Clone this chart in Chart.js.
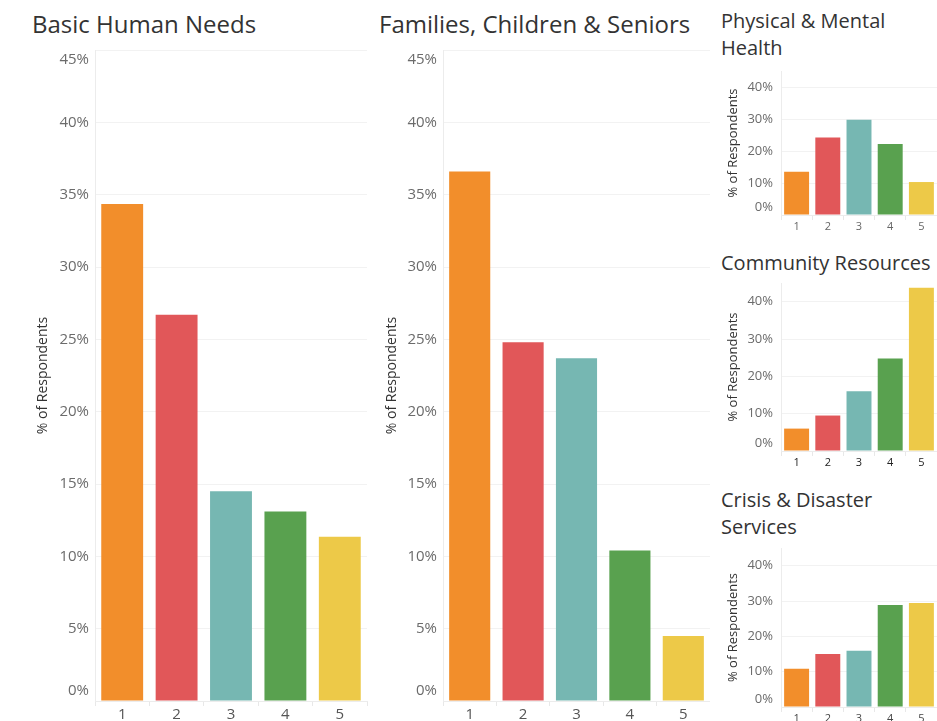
<!DOCTYPE html>
<html>
<head>
<meta charset="utf-8">
<script src="https://cdn.jsdelivr.net/npm/chart.js@4/dist/chart.umd.min.js"></script>
<style>
  html, body { margin: 0; padding: 0; background: #fff; }
  body { width: 937px; height: 721px; overflow: hidden; position: relative; font-family: "Open Sans", "Noto Sans", sans-serif; }
  .title { position: absolute; color: #333; white-space: nowrap; }
  .big { font-size: 24px; line-height: 24px; }
  .small { font-size: 20px; line-height: 27px; }
  canvas { position: absolute; }
</style>
</head>
<body>
<div class="title big" style="left:32px;top:12px">Basic Human Needs</div>
<div class="title big" style="left:379px;top:12px">Families, Children &amp; Seniors</div>
<div class="title small" style="left:721px;top:7px">Physical &amp; Mental<br>Health</div>
<div class="title small" style="left:721px;top:249px">Community Resources</div>
<div class="title small" style="left:721px;top:486px">Crisis &amp; Disaster<br>Services</div>

<canvas id="basic" width="370" height="681" style="left:0;top:40px"></canvas>
<canvas id="families" width="340" height="681" style="left:370px;top:40px"></canvas>
<canvas id="health" width="227" height="180" style="left:710px;top:60px"></canvas>
<canvas id="community" width="227" height="200" style="left:710px;top:275px"></canvas>
<canvas id="crisis" width="227" height="181" style="left:710px;top:540px"></canvas>

<script>
// Ratings 1-5, share of respondents (%) per service area
const categories = ['1', '2', '3', '4', '5'];
const basicHumanNeeds = [34.35, 26.7, 14.5, 13.1, 11.35];
const familiesChildrenSeniors = [36.6, 24.8, 23.7, 10.4, 4.5];
const physicalMentalHealth = [13.5, 24.2, 29.8, 22.2, 10.3];
const communityResources = [6.0, 9.5, 16.0, 24.8, 43.7];
const crisisDisasterServices = [10.8, 15.0, 15.9, 28.9, 29.4];

// Axis ticks (%)
const largeTicks = [0, 5, 10, 15, 20, 25, 30, 35, 40, 45];
const smallTicks = [0, 10, 20, 30, 40];

const barColors = ['#F28E2B', '#E15759', '#76B7B2', '#59A14F', '#EDC948'];
const FONT = '"Open Sans", "Noto Sans", sans-serif';

// Y tick labels, kept inside the plot area at the top and bottom
const insideYLabels = {
  id: 'insideYLabels',
  afterDraw(chart, args, opts) {
    const scale = chart.scales.y;
    const area = chart.chartArea;
    const ctx = chart.ctx;
    ctx.save();
    ctx.font = opts.size + 'px ' + FONT;
    ctx.fillStyle = opts.color;
    ctx.textAlign = 'right';
    ctx.textBaseline = 'middle';
    scale.ticks.forEach(t => {
      let py = scale.getPixelForValue(t.value);
      py = Math.min(Math.max(py, area.top + opts.half), area.bottom - opts.half);
      ctx.fillText(t.value + '%', area.left - opts.gap, py);
    });
    ctx.restore();
  }
};

function makeChart(id, values, cfg) {
  return new Chart(document.getElementById(id), {
    type: 'bar',
    data: {
      labels: categories,
      datasets: [{
        data: values,
        backgroundColor: barColors,
        borderWidth: 0,
        barPercentage: cfg.barPct,
        categoryPercentage: 1
      }]
    },
    options: {
      responsive: false,
      animation: false,
      devicePixelRatio: 1,
      layout: { padding: { top: cfg.padTop, right: cfg.padRight, bottom: 0, left: 0 } },
      plugins: {
        legend: { display: false },
        tooltip: { enabled: false },
        insideYLabels: { size: cfg.tickSize, color: '#6b6b6b', half: cfg.half, gap: cfg.gap }
      },
      scales: {
        x: {
          afterFit: s => { s.height = cfg.xHeight; },
          grid: { display: true, drawOnChartArea: false, drawTicks: true, tickLength: 5, color: '#e8e8e8', offset: true },
          border: { display: true, color: '#ececec' },
          ticks: { padding: 0, color: cfg.xColor, font: { family: FONT, size: cfg.xSize } }
        },
        y: {
          min: 0,
          max: 45,
          afterFit: s => { s.width = cfg.yWidth; },
          afterBuildTicks: s => { s.ticks = cfg.ticks.map(v => ({ value: v })); },
          grid: { color: '#f2f2f2', drawTicks: false },
          border: { display: true, color: '#ececec' },
          ticks: { display: false },
          title: {
            display: true,
            text: '% of Respondents',
            color: '#333',
            font: { family: FONT, size: cfg.titleSize },
            padding: { top: cfg.titlePad, bottom: 0 }
          }
        }
      }
    },
    plugins: [insideYLabels]
  });
}

const largeCfg = { barPct: 0.77, tickSize: 15, half: 10, gap: 6, xSize: 15, xColor: '#555', titleSize: 14, ticks: largeTicks, padTop: 10, xHeight: 20 };
const smallCfg = { barPct: 0.8, tickSize: 13, half: 8, gap: 8, xSize: 11, xColor: '#555', titleSize: 13, ticks: smallTicks, padRight: 0, yWidth: 71, titlePad: 15 };

makeChart('basic', basicHumanNeeds, Object.assign({}, largeCfg, { padRight: 3, yWidth: 95, titlePad: 35 }));
makeChart('families', familiesChildrenSeniors, Object.assign({}, largeCfg, { padRight: 0, yWidth: 73, titlePad: 14 }));
makeChart('health', physicalMentalHealth, Object.assign({}, smallCfg, { padTop: 11, xHeight: 25, xColor: '#666' }));
makeChart('community', communityResources, Object.assign({}, smallCfg, { padTop: 8, xHeight: 24, xColor: '#222' }));
makeChart('crisis', crisisDisasterServices, Object.assign({}, smallCfg, { padTop: 8, xHeight: 14, xColor: '#444' }));
</script>
</body>
</html>
